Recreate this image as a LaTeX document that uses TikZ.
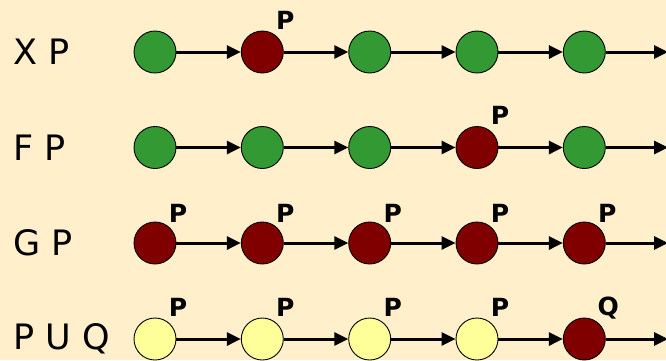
\documentclass[tikz,border=0pt]{standalone}
\usepackage{fontspec}
\setmainfont{DejaVu Sans}
\usetikzlibrary{arrows.meta,calc}
\definecolor{bg}{HTML}{FFEFCB}
\definecolor{gr}{HTML}{339933}
\definecolor{rd}{HTML}{800000}
\definecolor{yl}{HTML}{FFFF99}
\tikzset{
  st/.style={circle,draw=black,line width=0.9pt,minimum size=42pt,inner sep=0pt},
  gnode/.style={st,fill=gr},
  rnode/.style={st,fill=rd},
  ynode/.style={st,fill=yl},
  conn/.style={line width=3pt,-{Triangle[length=14pt,width=13pt]}},
  big/.style={font=\fontsize{35}{35}\selectfont,anchor=west,inner sep=0pt},
  lab/.style={font=\fontsize{25}{25}\selectfont\bfseries,inner sep=0pt}
}
\begin{document}
\begin{tikzpicture}[x=1pt,y=-1pt]
\fill[bg] (0,0) rectangle (666,360);
\useasboundingbox (0,0) rectangle (666,360);
\def\ya{52}\def\yb{147.5}\def\yc{243}\def\yd{339}
% row labels
\node[big] (la) at (13,\ya) {X P};
\node[big] (lb) at (13,\yb) {F P};
\node[big] (lc) at (13,\yc) {G P};
\node[big] (ld) at (13,\yd) {P U Q};
% row 1
\node[gnode] (a1) at (155,\ya) {};
\node[rnode] (a2) at (262.3,\ya) {};
\node[gnode] (a3) at (369.7,\ya) {};
\node[gnode] (a4) at (477,\ya) {};
\node[gnode] (a5) at (584.3,\ya) {};
\coordinate (a6) at (668,\ya);
% row 2
\node[gnode] (b1) at (155,\yb) {};
\node[gnode] (b2) at (262.3,\yb) {};
\node[gnode] (b3) at (369.7,\yb) {};
\node[rnode] (b4) at (477,\yb) {};
\node[gnode] (b5) at (584.3,\yb) {};
\coordinate (b6) at (668,\yb);
% row 3
\node[rnode] (c1) at (155,\yc) {};
\node[rnode] (c2) at (262.3,\yc) {};
\node[rnode] (c3) at (369.7,\yc) {};
\node[rnode] (c4) at (477,\yc) {};
\node[rnode] (c5) at (584.3,\yc) {};
\coordinate (c6) at (668,\yc);
% row 4
\node[ynode] (d1) at (155,\yd) {};
\node[ynode] (d2) at (262.3,\yd) {};
\node[ynode] (d3) at (369.7,\yd) {};
\node[ynode] (d4) at (477,\yd) {};
\node[rnode] (d5) at (584.3,\yd) {};
\coordinate (d6) at (668,\yd);
\foreach \r in {a,b,c,d}{
  \draw[conn] (\r1) -- (\r2);
  \draw[conn] (\r2) -- (\r3);
  \draw[conn] (\r3) -- (\r4);
  \draw[conn] (\r4) -- (\r5);
  \draw[conn] (\r5) -- (\r6);
}
% labels
\node[lab] (pa2) at ($(a2)+(23,-32)$) {P};
\node[lab] (pb4) at ($(b4)+(23,-32)$) {P};
\node[lab] (pc1) at ($(c1)+(23,-30)$) {P};
\node[lab] (pc2) at ($(c2)+(23,-30)$) {P};
\node[lab] (pc3) at ($(c3)+(23,-30)$) {P};
\node[lab] (pc4) at ($(c4)+(23,-30)$) {P};
\node[lab] (pc5) at ($(c5)+(23,-30)$) {P};
\node[lab] (pd1) at ($(d1)+(23,-32)$) {P};
\node[lab] (pd2) at ($(d2)+(23,-32)$) {P};
\node[lab] (pd3) at ($(d3)+(23,-32)$) {P};
\node[lab] (pd4) at ($(d4)+(23,-32)$) {P};
\node[lab] (qd5) at ($(d5)+(24,-31)$) {Q};
\end{tikzpicture}
\end{document}
